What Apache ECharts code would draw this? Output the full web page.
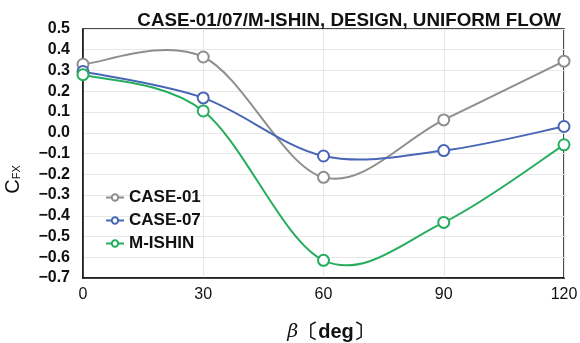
<!DOCTYPE html>
<html><head><meta charset="utf-8">
<script src="https://cdn.jsdelivr.net/npm/echarts@6/dist/echarts.min.js"></script>
<style>html,body{margin:0;padding:0;background:#fff}#c{width:580px;height:343px}</style>
</head><body><div id="c"></div>
<script>
const beta = [0, 30, 60, 90, 120];
const case01 = [0.33, 0.365, -0.215, 0.062, 0.345];
const case07 = [0.295, 0.168, -0.112, -0.086, 0.03];
const mishin = [0.28, 0.105, -0.615, -0.432, -0.058];
const seriesNames = ['CASE-01', 'CASE-07', 'M-ISHIN'];
const colors = ['#8e8e8e', '#4866b6', '#26ad5e'];
const titleText = 'CASE-01/07/M-ISHIN, DESIGN, UNIFORM FLOW';

const FONT = 'Liberation Sans, Arial, sans-serif';
const chart = echarts.init(document.getElementById('c'));
const datasets = [case01, case07, mishin];

// Smooth curve through the points (cardinal spline, as spreadsheet smoothing), drawn in pixel space via api.coord
function makeRender(vals, color) {
  return function (params, api) {
    const i = params.dataIndex;
    const n = vals.length;
    if (i >= n - 1) return null;
    const P = k => { k = Math.max(0, Math.min(n - 1, k)); return api.coord([beta[k], vals[k]]); };
    const p0 = P(i - 1), p1 = P(i), p2 = P(i + 1), p3 = P(i + 2);
    return {
      type: 'bezierCurve',
      shape: {
        x1: p1[0], y1: p1[1], x2: p2[0], y2: p2[1],
        cpx1: p1[0] + (p2[0] - p0[0]) / 6, cpy1: p1[1] + (p2[1] - p0[1]) / 6,
        cpx2: p2[0] - (p3[0] - p1[0]) / 6, cpy2: p2[1] - (p3[1] - p1[1]) / 6
      },
      style: {stroke: color, lineWidth: 2, fill: null}
    };
  };
}

const series = [];
datasets.forEach((d, i) => {
  series.push({
    type: 'custom', name: seriesNames[i] + ' curve', renderItem: makeRender(d, colors[i]),
    data: beta.map((b, j) => [b, d[j]]), silent: true, z: 2 + i * 2, clip: true
  });
});
datasets.forEach((d, i) => {
  series.push({
    name: seriesNames[i], type: 'line', smooth: false,
    data: beta.map((b, j) => [b, d[j]]),
    symbol: 'emptyCircle', symbolSize: 11,
    color: colors[i],
    lineStyle: {width: 2, color: colors[i], opacity: 0},
    itemStyle: {color: colors[i], borderWidth: 2, borderColor: colors[i]},
    z: 3 + i * 2
  });
});

chart.setOption({
  animation: false,
  textStyle: {fontFamily: FONT},
  title: {text: titleText, right: 14, top: 6, textStyle: {fontSize: 18.8, fontWeight: 'bold', color: '#111', fontFamily: FONT}},
  grid: {left: 83, right: 16, top: 29, bottom: 65, show: true, borderColor: '#111', borderWidth: 1.5, outerBoundsMode: 'none', containLabel: false},
  legend: {
    orient: 'vertical', left: 100, top: 184, itemGap: 6,
    itemWidth: 18, itemHeight: 8,
    textStyle: {fontSize: 17, fontWeight: 'bold', color: '#111', fontFamily: FONT},
    data: seriesNames.map((n, i) => ({name: n, lineStyle: {opacity: 1, width: 2, color: colors[i]}}))
  },
  xAxis: {
    type: 'value', min: 0, max: 120, interval: 30,
    name: '{b|β}{n|〔deg〕}', nameLocation: 'middle', nameGap: 44,
    nameTextStyle: {padding: [0, 0, 0, 14], rich: {b: {fontSize: 19, fontStyle: 'italic', color: '#111', fontFamily: 'DejaVu Serif'}, n: {fontSize: 20, fontWeight: 'bold', color: '#111', fontFamily: FONT}}},
    axisLine: {onZero: false, lineStyle: {color: '#111', width: 1.5}},
    axisTick: {show: false},
    axisLabel: {fontSize: 16, color: '#111', margin: 9},
    splitLine: {show: true, lineStyle: {color: '#e8e8e8', width: 1}}
  },
  yAxis: {
    type: 'value', min: -0.7, max: 0.5, interval: 0.1,
    name: '{c|C}{s|FX}', nameLocation: 'middle', nameGap: 60, nameRotate: 90,
    nameTextStyle: {padding: [0, 52, 0, 0], rich: {c: {fontSize: 20, color: '#111', fontFamily: FONT}, s: {fontSize: 11, color: '#111', fontFamily: FONT, padding: [8, 0, 0, 0]}}},
    axisLine: {show: true, onZero: false, lineStyle: {color: '#111', width: 1.5}},
    axisTick: {show: false},
    axisLabel: {fontSize: 16, fontWeight: 'bold', color: '#111', margin: 13,
      formatter: v => { const s = (Math.round(v * 10) / 10).toFixed(1); return s === '-0.0' ? '0.0' : s.replace('-', '\u2212'); }},
    splitLine: {show: true, lineStyle: {color: '#e8e8e8', width: 1}}
  },
  series: series
});
</script></body></html>
